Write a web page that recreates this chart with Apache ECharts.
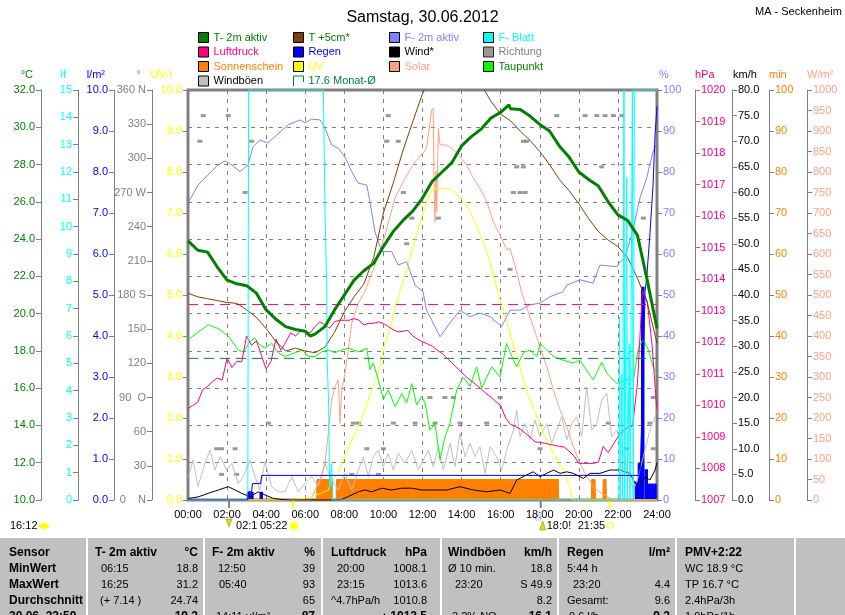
<!DOCTYPE html>
<html>
<head>
<meta charset="UTF-8">
<title>Samstag, 30.06.2012</title>
<script src="https://cdn.jsdelivr.net/npm/echarts@6.0.0/dist/echarts.min.js"></script>
<style>
html,body{margin:0;padding:0;background:#fff;}
#chart{width:845px;height:615px;}
</style>
</head>
<body>
<div id="chart"></div>
<script>
var FONT = '"Liberation Sans", Arial, sans-serif';

// ---- data (time in hours) ----
var t2mT = [0,0.5,1,1.5,2,2.5,3,3.5,4,4.5,5,5.5,6,6.25,6.5,7,7.5,8,8.5,9,9.5,10,10.5,11,11.5,12,12.5,13,13.5,14,14.5,15,15.5,16,16.42,16.5,17,17.5,18,18.5,19,19.5,20,20.5,21,21.5,22,22.5,23,23.5,24];
var t2mV = [23.9,23.4,23.3,22.5,21.8,21.6,21.5,21.1,20.2,19.7,19.3,19.15,19.05,18.8,18.9,19.3,20.2,21.0,21.8,22.3,22.7,23.6,24.4,25.0,25.5,26.2,27.1,27.6,28.1,29.0,29.5,29.9,30.5,30.8,31.2,31.0,30.95,30.6,30.15,29.8,29.0,28.4,27.6,27.2,26.85,26.0,25.3,25.0,24.2,21.8,19.2];

var t5cmT = [0,0.5,1,1.5,2,2.5,3,3.5,4,4.5,5,5.5,6,6.5,7,7.5,8,8.5,9,9.5,10,10.5,11,11.5,12,12.5,13,13.5,14,14.5,15,15.5,16,16.5,17,17.5,18,18.5,19,19.5,20,20.5,21,21.5,22,22.5,23,23.5,24];
var t5cmV = [21.1,20.9,20.8,20.7,20.6,20.55,20.2,19.8,19.2,18.5,18.0,18.15,18.0,17.9,18.2,19.0,20.1,20.9,21.6,23.0,25.4,27.0,28.75,30.3,31.8,33.0,34.0,34.3,33.5,33.0,32.3,31.4,30.7,30.35,29.8,29.3,28.7,28.0,27.2,26.6,25.9,25.1,24.4,23.95,23.6,23.0,21.9,20.6,18.4];

var f2mT = [0,0.51,1.02,1.54,1.89,2.24,2.66,3.07,3.33,3.68,4.09,4.54,5.12,5.73,5.99,6.33,6.76,7.01,7.35,7.68,8.03,8.38,8.7,9.15,9.31,9.57,9.91,10.42,10.75,11.19,11.62,12.03,12.2,12.38,12.9,13.41,13.92,14.43,14.94,15.46,16.05,16.48,16.99,17.5,18.01,18.53,19.19,19.38,20.06,20.73,21.08,21.94,22.11,22.36,22.77,23.13,23.47,23.8,24];
var f2mV = [72.4,76.8,79.3,81.7,82.7,81.7,80.1,81.7,86.2,87.8,87.1,89.0,91.5,92.7,92.0,92.9,92.7,90.7,86.6,85.8,83.7,80.1,77.3,76.8,72.8,65.4,60.6,60.6,57.3,58.1,52.4,50.8,46.3,44.7,39.8,43.2,46.3,44.7,45.6,44.7,42.3,46.3,46.3,47.6,48.0,49.6,50.8,52.4,53.7,52.9,57.3,56.9,58.1,59.0,65.9,73.7,78.5,85.0,87.0];

var leafT = [0,3.06,3.1,6.93,7.0,7.1,7.12,7.2,7.25,7.35,7.4,22.05,22.08,22.12,22.17,22.2,22.24,22.28,22.31,22.35,22.42,22.45,22.49,22.55,22.58,22.62,22.7,22.74,22.78,22.81,22.84,24];
var leafV = [0,0,15,15,11,7.7,5.2,3.4,0.4,1.35,0,0,6.7,0,0,4.6,0,0,15,0,0,11.8,0,0,5.7,0,0,15,0,0,15,15];

var pressV = [1009.9,1010.0,1010.1,1010.5, 1010.6,1010.75,1010.87,1010.8, 1011.5,1011.2,1011.4,1011.38,
  1012.2,1011.9,1012.05,1011.6, 1011.15,1011.4,1012.1,1011.75, 1012.0,1012.3,1012.2,1012.35,
  1012.35,1012.3,1012.5,1012.65, 1012.55,1012.45,1012.65,1012.7, 1012.7,1012.7,1012.75,1012.7,
  1012.55,1012.6,1012.6,1012.65, 1012.6,1012.5,1012.4,1012.33, 1012.35,1012.38,1012.2,1012.1,
  1012.02,1011.95,1011.88,1011.75, 1011.65,1011.5,1011.35,1011.2, 1011.05,1010.9,1010.78,1010.65,
  1010.52,1010.38,1010.26,1010.12, 1010.0,1009.6,1009.4,1009.33, 1009.25,1009.12,1009.0,1008.85,
  1008.82,1008.8,1008.76,1008.74, 1008.7,1008.68,1008.55,1008.4, 1008.16,1008.16,1008.16,1008.16,
  1008.2,1008.7,1008.5,1008.75, 1009.0,1009.2,1009.3,1009.35, 1010.7,1013.6,1013.3,1011.9, 1009.8];
var pressT = [];
for (var q = 0; q < pressV.length; q++) pressT.push(q * 0.25);

var dewT = [0,0.51,1.04,1.55,2.06,2.57,2.83,3.17,3.43,3.6,3.94,4.28,4.62,4.96,5.48,5.82,6.16,6.5,6.84,7.18,7.52,7.87,8.2,8.72,9.15,9.31,9.48,9.74,10,10.25,10.6,10.94,11.19,11.45,11.7,11.96,12.13,12.38,12.64,12.9,13.15,13.4,13.75,13.92,14.09,14.43,14.77,15.03,15.29,15.54,15.97,16.3,16.57,16.82,17.16,17.5,17.85,18.02,18.36,18.7,19.2,19.7,20.06,20.4,20.74,21.17,21.43,21.94,22.45,22.8,23.05,23.3,23.56,23.8,24];
var dewV = [18.6,19.0,19.4,19.2,18.8,18.05,17.95,18.5,18.7,18.4,18.15,18.4,17.9,17.7,17.9,18.05,17.7,17.7,17.95,18.05,17.9,18.05,18.15,17.95,18.15,17.0,17.35,16.45,15.4,15.9,15.0,15.7,15.2,16.25,15.1,15.55,15.2,13.75,14.1,12.15,13.4,14.1,15.9,16.25,16.6,16.1,17.15,16.0,16.6,17.15,16.6,18.4,17.7,17.15,17.9,18.05,17.7,18.4,18.05,17.7,17.5,17.35,17.5,16.95,16.45,17.4,16.8,16.25,16.45,16.45,18.2,18.6,18.05,17.15,16.8];

var gustT = [0.02,0.26,0.51,0.87,1.13,1.38,1.64,1.98,2.24,2.57,2.83,3.17,3.43,3.68,3.94,4.28,4.62,4.96,5.31,5.64,5.99,6.33,6.67,7.01,7.35,7.69,8.03,8.38,8.72,8.97,9.23,9.48,9.74,9.99,10.25,10.51,10.76,11.11,11.45,11.79,12.04,12.3,12.55,12.81,13.07,13.41,13.66,13.92,14.18,14.43,14.69,14.94,15.2,15.46,15.8,16.05,16.31,16.65,16.82,16.99,17.25,17.5,17.76,18.01,18.36,18.61,18.87,19.12,19.38,19.64,19.89,20.15,20.4,20.66,20.92,21.17,21.43,21.68,21.94,22.2,22.45,22.79,23.05,23.3,23.64,23.9,24];
var gustV = [4.5,7.8,2.6,7.2,9.75,5.85,8.45,5.85,7.15,3.25,4.55,7.8,4.55,1.95,7.5,2.6,1.6,1.6,4.55,1.6,3.25,4.55,2.6,7.15,3.9,1.95,5.2,1.95,5.85,8.45,4.55,8.45,9.75,6.5,9.1,5.85,9.1,7.15,9.75,5.85,7.8,9.75,6.5,10.4,5.85,11.05,6.5,13,8.45,11.05,8.45,10.4,5.2,10.4,8.45,5.85,9.75,13.65,17.55,12.35,14.95,11.7,15.6,12.35,14.95,11.05,13.65,16.25,11.7,14.95,16.25,12.35,22.1,13.65,14.95,19.5,20.8,12.35,13.65,10.4,5.85,1.95,4.55,8.45,13.65,16.25,18.2];

var windT = [0.02,0.51,1.04,1.55,2.06,2.41,2.75,3.17,3.6,3.94,4.37,4.8,5.22,7.35,7.87,8.38,8.72,9.06,9.4,9.91,10.42,10.94,11.45,11.96,12.55,13.24,13.92,14.6,15.29,15.97,16.48,16.82,17.33,17.67,18.01,18.36,18.7,19.04,19.38,19.72,20.23,20.57,21.08,21.6,22.1,22.62,22.88,23.13,23.39,23.64,23.9,24];
var windV = [0.3,0.6,1.3,1.95,2.6,1.95,1.3,0.65,1.6,1.0,0.3,0.1,0,0,0.1,1.0,1.6,1.95,1.6,2.3,1.95,2.3,2.3,1.95,1.95,1.95,2.6,1.95,1.6,1.95,1.3,3.9,4.9,5.5,4.55,5.2,5.85,5.2,5.5,5.2,4.2,5.2,5.2,5.85,5.85,5.2,3.25,2.6,4.55,3.9,5.85,7.3];

var dirT = [0.61,0.78,1.47,1.72,1.72,2.06,2.41,2.49,2.92,3.26,4.11,8.38,8.46,8.72,9.15,9.74,10.0,10.17,10.25,10.51,10.76,11.02,11.19,11.45,11.62,12.38,12.64,12.81,13.15,13.58,13.92,15.29,15.97,16.48,16.65,16.82,16.99,17.16,17.16,17.25,17.33,18.01,18.87,20.32,20.92,21.17,21.34,21.51,21.77,22.2,22.45,23.3,23.64,23.81,23.81];
var dirV = [315,337.5,45,45,22.5,337.5,45,22.5,270,315,67.5,22.5,67.5,67.5,45,22.5,45,315,337.5,67.5,315,270,225,247.5,67.5,90,67.5,247.5,90,90,67.5,67.5,90,202.5,270,292.5,270,315,292.5,270,315,45,337.5,337.5,337.5,292.5,337.5,67.5,337.5,337.5,45,247.5,67.5,45,90];

var rainT = [0,3.05,3.1,3.25,3.3,3.72,3.77,23.13,23.27,23.39,23.47,23.64,23.8,23.9,24];
var rainV = [0,0,0.2,0.2,0.4,0.4,0.6,0.6,2.7,5.1,5.4,6.5,7.7,8.9,9.6];
var rainBarT = [3.1,3.27,3.75,22.95,23.1,23.27,23.45,23.6,23.75,23.9];
var rainBarV = [0.2,0.2,0.2,0.45,0.9,5.2,0.75,0.4,0.4,0.4];

var sunT = [0,6.58,6.6,7.38,7.4,7.58,7.6,18.95,18.97,20.64,20.66,20.83,20.85,21.23,21.25,21.39,21.41,24];
var sunV = [0,0,5,5,0,0,5,5,0,0,5,5,0,0,5,5,0,0];

var uvT = [0,5.39,6.33,7.18,7.35,7.69,8.03,8.38,8.72,9.06,9.4,9.74,10.08,10.42,10.76,10.94,11.45,11.79,12.22,12.55,12.9,13.41,13.75,14.09,14.43,14.77,15.03,15.29,15.54,15.8,16.14,16.48,16.82,17.16,17.5,17.85,18.19,18.7,19.2,19.55,19.69,24];
var uvV = [0,0,0.08,0.24,0.5,0.65,1.06,1.46,1.79,2.2,2.68,3.09,3.82,4.31,4.96,5.24,6.06,6.63,7.28,7.6,7.6,7.6,7.44,7.3,7.03,6.7,6.38,6.06,5.65,5.16,4.63,4.07,3.5,2.93,2.44,2.03,1.63,1.14,0.73,0.32,0,0];

var solT = [0,6.3,6.5,6.84,7.01,7.18,7.35,7.52,7.69,7.78,7.87,8.03,8.2,8.38,8.72,9.06,9.57,10.08,10.59,11.11,11.62,12.09,12.22,12.47,12.55,12.59,12.64,12.69,12.73,12.81,12.9,13.24,13.58,13.92,14.26,14.6,14.94,15.29,15.62,15.97,16.31,16.48,16.82,17.08,17.33,17.67,18.01,18.36,18.7,19.04,19.38,19.72,20.06,20.4,20.74,21.17,21.6,21.94,24];
var solV = [0,0,24,57,90,163,244,276,293,187,268,309,366,431,480,510,573,646,736,785,825,850,862,951,956,768,679,801,703,906,866,866,854,837,817,785,760,728,679,646,610,614,557,505,471,423,374,325,268,220,179,130,90,57,32,16,4,0,0];

var monthTemp = 17.6;
var monthPress = 1013.2;
var moonTimes = [2.1, 18.05];
var sunTimes = [5.37, 21.58];

var dirNames = {360:'360 N', 270:'270 W', 180:'180 S', 90:'90  O', 0:'0    N'};

function zip(ts, vs) { return ts.map(function (t, i) { return [t, vs[i]]; }); }
function pad(h) { return (h < 10 ? '0' : '') + h + ':00'; }

function yAxisOf(pos, name, min, max, interval, offset, color, fmt, padN) {
  return {
    type: 'value', position: pos, offset: offset, min: min, max: max, interval: interval,
    name: name, nameLocation: 'end', nameGap: 10, nameMoveOverlap: false,
    nameTextStyle: {color: color, fontSize: 11, fontFamily: FONT,
      align: pos === 'left' ? 'right' : 'left',
      padding: pos === 'left' ? [0, padN, 0, 0] : [0, 0, 0, padN]},
    axisLine: {show: true, lineStyle: {color: '#808080'}},
    axisTick: {show: true, length: 5, lineStyle: {color: '#808080'}},
    axisLabel: {color: color, fontSize: 11, fontFamily: FONT, margin: 6, formatter: fmt},
    splitLine: {show: false}
  };
}
function f1(v) { return v.toFixed(1); }
function f0(v) { return String(v); }

function line(name, yIdx, ts, vs, color, width, extra) {
  var s = {
    name: name, type: 'line', yAxisIndex: yIdx, data: zip(ts, vs),
    showSymbol: false, symbol: 'none', clip: true,
    itemStyle: {color: color}, lineStyle: {color: color, width: width || 1}
  };
  for (var k in extra) s[k] = extra[k];
  return s;
}

// axis indices
var UVI = 0, LF = 1, RAIN = 2, DIR = 3, TEMP = 4, HUM = 5, HPA = 6, KMH = 7, MIN = 8, WM2 = 9;

var temps = yAxisOf('left', '°C', 10, 32, 2, 147, '#008000', f1, 8);
temps.splitLine = {show: true, lineStyle: {color: '#808080', type: [4, 5]}};

var legendBase = {
  orient: 'vertical', top: 32, itemWidth: 10, itemHeight: 10, itemGap: 3.5, icon: 'rect',
  padding: 0, selectedMode: false,
  textStyle: {fontSize: 11, fontFamily: FONT, lineHeight: 11},
  itemStyle: {borderColor: '#000', borderWidth: 1}
};
function lg(left, items) {
  var o = {};
  for (var k in legendBase) o[k] = legendBase[k];
  o.left = left;
  o.data = items.map(function (it) {
    var d = {name: it[0], textStyle: {color: it[1]}};
    if (it[2]) { d.icon = it[2]; d.itemStyle = {color: 'rgba(0,0,0,0)', borderColor: it[1], borderWidth: 1}; }
    return d;
  });
  return o;
}

var chart = echarts.init(document.getElementById('chart'));
chart.setOption({
  animation: false,
  backgroundColor: '#fff',
  title: {text: 'Samstag, 30.06.2012', left: 'center', top: 5,
    textStyle: {fontSize: 16, fontWeight: 'normal', color: '#000', fontFamily: FONT}},
  legend: [
    lg(198, [['T- 2m aktiv', '#008000'], ['Luftdruck', '#ff0080'], ['Sonnenschein', '#ff8000'], ['Windböen', '#000000']]),
    lg(293, [['T +5cm*', '#008000'], ['Regen', '#0000ff'], ['UV', '#ffff00'], ['17.6 Monat-Ø', '#008040', 'path://M0,10V0H10V6']]),
    lg(389, [['F- 2m aktiv', '#8080ff'], ['Wind*', '#000000'], ['Solar', '#ffa080']]),
    lg(483, [['F- Blatt', '#00ffff'], ['Richtung', '#808080'], ['Taupunkt', '#008000']])
  ],
  grid: {left: 188, top: 90, width: 469, height: 410, show: true, borderColor: '#808080', borderWidth: 3, backgroundColor: 'transparent'},
  xAxis: [{
    type: 'value', min: 0, max: 24, interval: 2,
    axisLine: {show: true, lineStyle: {color: '#808080'}},
    axisTick: {show: false},
    axisLabel: {color: '#000', fontSize: 11, fontFamily: FONT, margin: 9, formatter: pad},
    splitLine: {show: true, lineStyle: {color: '#808080', type: [4, 5]}}
  }],
  yAxis: [
    yAxisOf('left', 'UV-I', 0, 10, 1, 0, '#ffff00', f1, 16),
    yAxisOf('left', 'lf', 0, 15, 1, 110, '#00ffff', f0, 12),
    yAxisOf('left', 'l/m²', 0, 10, 1, 74, '#0000ff', f1, 9),
    yAxisOf('left', '°', 0, 360, 30, 36, '#808080', function (v) { return dirNames[v] || String(v); }, 11),
    temps,
    yAxisOf('right', '%', 0, 100, 10, 0, '#8080ff', f0, 2),
    yAxisOf('right', 'hPa', 1007, 1020, 1, 38, '#ff0080', f0, 0),
    yAxisOf('right', 'km/h', 0, 80, 5, 75, '#000000', f1, 1),
    yAxisOf('right', 'min', 0, 100, 10, 112, '#ff8000', f0, 0),
    yAxisOf('right', 'W/m²', 0, 1000, 50, 150, '#ffa080', f0, 0)
  ],
  series: [
    line('Sonnenschein', MIN, sunT, sunV, '#ff8000', 1, {areaStyle: {color: '#ff8000', opacity: 1}}),
    line('Windböen', KMH, gustT, gustV, '#c0c0c0', 1),
    {name: 'Richtung', type: 'scatter', yAxisIndex: DIR, data: zip(dirT, dirV), symbol: 'rect', symbolSize: [5, 3],
      itemStyle: {color: '#808080'}},
    {name: 'Regen', type: 'bar', yAxisIndex: RAIN, data: zip(rainBarT, rainBarV), barWidth: 3.5,
      itemStyle: {color: '#0000ff'}},
    line('Solar', WM2, solT, solV, '#ffa080', 1),
    line('UV', UVI, uvT, uvV, '#ffff00', 1),
    line('Taupunkt', TEMP, dewT, dewV, '#00ff00', 1),
    line('Luftdruck', HPA, pressT, pressV, '#ff0080', 1),
    line('Luftdruck Monat-Ø', HPA, [0, 24], [monthPress, monthPress], '#ff0080', 1, {lineStyle: {color: '#ff0080', width: 1, type: [10, 6]}}),
    line('17.6 Monat-Ø', TEMP, [0, 24], [monthTemp, monthTemp], '#008040', 1, {lineStyle: {color: '#008040', width: 1, type: [10, 6]}}),
    line('F- 2m aktiv', HUM, f2mT, f2mV, '#8080ff', 1),
    line('T +5cm*', TEMP, t5cmT, t5cmV, '#804000', 1),
    line('Wind*', KMH, windT, windV, '#000000', 1),
    line('F- Blatt', LF, leafT, leafV, '#00ffff', 1),
    line('Regen', RAIN, rainT, rainV, '#0000ff', 1),
    line('T- 2m aktiv', TEMP, t2mT, t2mV, '#008000', 3)
  ]
});

// ---- extra texts, markers and the statistics table ----
function txt(x, y, s, o) {
  o = o || {};
  return {type: 'text', x: x, y: y, silent: true, style: {
    text: s, fill: o.color || '#000', align: o.align || 'left', verticalAlign: 'middle',
    font: (o.bold ? 'bold ' : '') + (o.size || 11) + 'px ' + FONT}};
}

var g = [];
g.push(txt(755, 12, 'MA - Seckenheim'));

var yb = chart.convertToPixel({yAxisIndex: TEMP}, 10);
moonTimes.forEach(function (t) {
  var x = chart.convertToPixel({xAxisIndex: 0}, t);
  g.push({type: 'line', silent: true, shape: {x1: x, y1: yb, x2: x, y2: yb + 8}, style: {stroke: '#808080', lineWidth: 2}});
});
sunTimes.forEach(function (t) {
  var x = chart.convertToPixel({xAxisIndex: 0}, t);
  g.push({type: 'line', silent: true, shape: {x1: x, y1: yb, x2: x, y2: yb + 8}, style: {stroke: '#ffff00', lineWidth: 2}});
});

var mx0 = chart.convertToPixel({xAxisIndex: 0}, moonTimes[0]);
var mx1 = chart.convertToPixel({xAxisIndex: 0}, moonTimes[1]);
var sx0 = chart.convertToPixel({xAxisIndex: 0}, sunTimes[0]);
var sx1 = chart.convertToPixel({xAxisIndex: 0}, sunTimes[1]);

g.push(txt(10, 526, '16:12'));
g.push({type: 'ellipse', silent: true, shape: {cx: 44, cy: 526, rx: 5, ry: 3}, style: {fill: '#ffff00'}});
g.push({type: 'polygon', silent: true, shape: {points: [[mx0 - 3, 519], [mx0 + 3, 519], [mx0, 527]]}, style: {fill: '#e0e000', stroke: '#808000', lineWidth: 0.5}});
g.push(txt(mx0 + 7, 526, '02:1'));
g.push(txt(sx0 - 33, 526, '05:22'));
g.push({type: 'circle', silent: true, shape: {cx: sx0 + 1, cy: 526, r: 4}, style: {fill: '#ffff00', stroke: '#ffff80', lineWidth: 2}});
g.push({type: 'rect', silent: true, shape: {x: mx1 - 5, y: 515, width: 5, height: 5}, style: {fill: 'none', stroke: '#8080ff', lineWidth: 1, lineDash: [1, 1]}});
g.push({type: 'polygon', silent: true, shape: {points: [[mx1 - 1, 530], [mx1 + 5, 530], [mx1 + 2, 521]]}, style: {fill: '#e0e000', stroke: '#808000', lineWidth: 0.5}});
g.push(txt(mx1 + 6, 526, '18:0!'));
g.push(txt(sx1 - 32, 526, '21:35'));
g.push({type: 'rect', silent: true, shape: {x: sx1 - 2, y: 523, width: 5, height: 5}, style: {fill: 'none', stroke: '#ffff00', lineWidth: 1}});

// table
g.push({type: 'rect', silent: true, shape: {x: 0, y: 538, width: 845, height: 77}, style: {fill: '#c0c0c0'}});
[87, 204, 322, 441, 558, 676, 795].forEach(function (x) {
  g.push({type: 'line', silent: true, shape: {x1: x, y1: 538, x2: x, y2: 615}, style: {stroke: '#ffffff', lineWidth: 2}});
});
var tableRows = [
  [553, [[9, 'Sensor', 'l', 1], [95, 'T- 2m aktiv', 'l', 1], [198, '°C', 'r', 1], [212, 'F- 2m aktiv', 'l', 1], [315, '%', 'r', 1],
         [331, 'Luftdruck', 'l', 1], [427, 'hPa', 'r', 1], [448, 'Windböen', 'l', 1], [552, 'km/h', 'r', 1],
         [567, 'Regen', 'l', 1], [670, 'l/m²', 'r', 1], [685, 'PMV+2:22', 'l', 1]]],
  [569, [[9, 'MinWert', 'l', 1], [101, '06:15'], [198, '18.8', 'r'], [218, '12:50'], [315, '39', 'r'], [337, '20:00'],
         [427, '1008.1', 'r'], [448, 'Ø 10 min.'], [552, '18.8', 'r'], [567, '5:44 h'], [685, 'WC 18.9 °C']]],
  [585, [[9, 'MaxWert', 'l', 1], [101, '16:25'], [198, '31.2', 'r'], [219, '05:40'], [315, '93', 'r'], [337, '23:15'],
         [427, '1013.6', 'r'], [455, '23:20'], [552, 'S 49.9', 'r'], [573, '23:20'], [670, '4.4', 'r'], [685, 'TP 16.7 °C']]],
  [601, [[9, 'Durchschnitt', 'l', 1], [100, '(+ 7.14 )'], [198, '24.74', 'r'], [315, '65', 'r'], [331, '^4.7hPa/h'],
         [427, '1010.8', 'r'], [552, '8.2', 'r'], [567, 'Gesamt:'], [670, '9.6', 'r'], [685, '2.4hPa/3h']]],
  [617, [[9, '30.06. 23:50', 'l', 1], [198, '19.2', 'r', 1], [216, '14:11 ul/m²'], [315, '87', 'r', 1],
         [427, '▲1012.5', 'r', 1], [452, '3.2% NO'], [552, '16.1', 'r', 1], [569, '0.6 l/h'], [670, '9.2', 'r', 1], [685, '1.9hPa/1h']]]
];
tableRows.forEach(function (row) {
  row[1].forEach(function (c) {
    g.push(txt(c[0], row[0], c[1], {align: c[2] === 'r' ? 'right' : 'left', bold: !!c[3], size: c[3] ? 12 : 11}));
  });
});

chart.setOption({graphic: g});
</script>
</body>
</html>
